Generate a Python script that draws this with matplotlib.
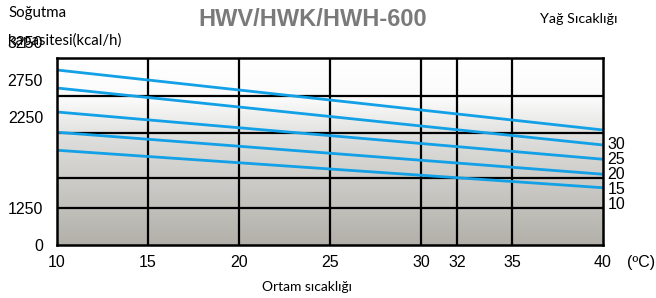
import numpy as np
import matplotlib
matplotlib.use("Agg")
import matplotlib.pyplot as plt
import matplotlib.transforms as mtransforms

# ambient temperature (x) and cooling capacity (kcal/h) at both ends
x_ends = [10, 40]
oil_lines = [
    [3090, 2290],
    [2850, 2090],
    [2530, 1900],
    [2260, 1700],
    [2020, 1520],
]
oil_labels = ["30", "25", "20", "15", "10"]

x_ticks = [10, 15, 20, 25, 30, 32, 35, 40]
y_ticks = [0, 1250, 2250, 2750, 3250]
h_grid = [1250, 1650, 2250, 2750]
v_grid = [15, 20, 25, 30, 32, 35]

BLUE = "#12a0e6"
TICK_FONT = "Liberation Sans"
TEXT_FONT = "Lato"


# broken axis: 0..1250 squeezed, linear above 1250
def fwd(v):
    v = np.asarray(v, dtype=float)
    return np.where(v < 1250, v * 37 / 1250, 37 + (v - 1250) * 0.075)


def inv(p):
    p = np.asarray(p, dtype=float)
    return np.where(p < 37, p * 1250 / 37, 1250 + (p - 37) / 0.075)


fig = plt.figure(figsize=(6.56, 2.98), dpi=100)
ax = fig.add_axes([57 / 656, 1 - 245 / 298, 546 / 656, 187 / 298])
ax.set_yscale("function", functions=(fwd, inv))
ax.set_xlim(10, 40)
ax.set_ylim(0, 3250)

# gray gradient background
grad = np.linspace(0, 1, 256).reshape(-1, 1)
cmap = matplotlib.colors.LinearSegmentedColormap.from_list(
    "bg", [(0.0, "#b2b0a9"), (0.55, "#dcdcda"), (0.78, "#fbfbfb"), (1.0, "#ffffff")])
ax.imshow(grad, cmap=cmap, aspect="auto", origin="lower",
          extent=[0, 1, 0, 1], transform=ax.transAxes, zorder=0)

for y in h_grid:
    ax.axhline(y, color="black", lw=1.6, zorder=2)
for x in v_grid:
    ax.axvline(x, color="black", lw=1.6, zorder=2)

for vals in oil_lines:
    ax.plot(x_ends, vals, color=BLUE, lw=2.0, zorder=3, solid_capstyle="butt")

for s in ax.spines.values():
    s.set_linewidth(1.8)
    s.set_zorder(4)

ax.set_xticks(x_ticks)
ax.set_xticklabels([str(v) for v in x_ticks], fontfamily=TICK_FONT, fontsize=11.5)
ax.set_yticks(y_ticks)
ax.set_yticklabels([str(v) for v in y_ticks], fontfamily=TICK_FONT, fontsize=11.5)
ax.tick_params(length=0)
ax.tick_params(axis="y", pad=10)
ax.tick_params(axis="x", pad=7)

# upper y labels sit higher than their grid lines in the original
shift = mtransforms.ScaledTranslation(0, 16 / 100, fig.dpi_scale_trans)
for lab in ax.get_yticklabels()[2:]:
    lab.set_transform(lab.get_transform() + shift)

# oil temperature labels, stacked on the right edge
for i, lab in enumerate(oil_labels):
    ax.text(1.008, 0.54 - i * 0.081, lab, transform=ax.transAxes,
            fontfamily=TICK_FONT, fontsize=11.5, va="center", ha="left",
            clip_on=False)

fig.text(641 / 656, 1 - 263 / 298, "(ºC)", fontfamily=TICK_FONT, fontsize=11.5,
         ha="center", va="center")
fig.text(307 / 656, 1 - 287 / 298, "Ortam sıcaklığı", fontfamily=TEXT_FONT,
         fontsize=10, ha="center", va="center")
fig.text(8 / 656, 1 - 13 / 298, "Soğutma", fontfamily=TEXT_FONT, fontsize=10.8,
         ha="left", va="center")
fig.text(8 / 656, 1 - 40 / 298, "kapasitesi(kcal/h)", fontfamily=TEXT_FONT,
         fontsize=10.8, ha="left", va="center")
fig.text(313 / 656, 1 - 19 / 298, "HWV/HWK/HWH-600", fontfamily=TICK_FONT,
         fontweight="bold", fontsize=17, color="#7a7a7a", ha="center", va="center")
fig.text(579 / 656, 1 - 19 / 298, "Yağ Sıcaklığı", fontfamily=TEXT_FONT,
         fontsize=10.3, ha="center", va="center")

fig.savefig("out.png", dpi=100)
